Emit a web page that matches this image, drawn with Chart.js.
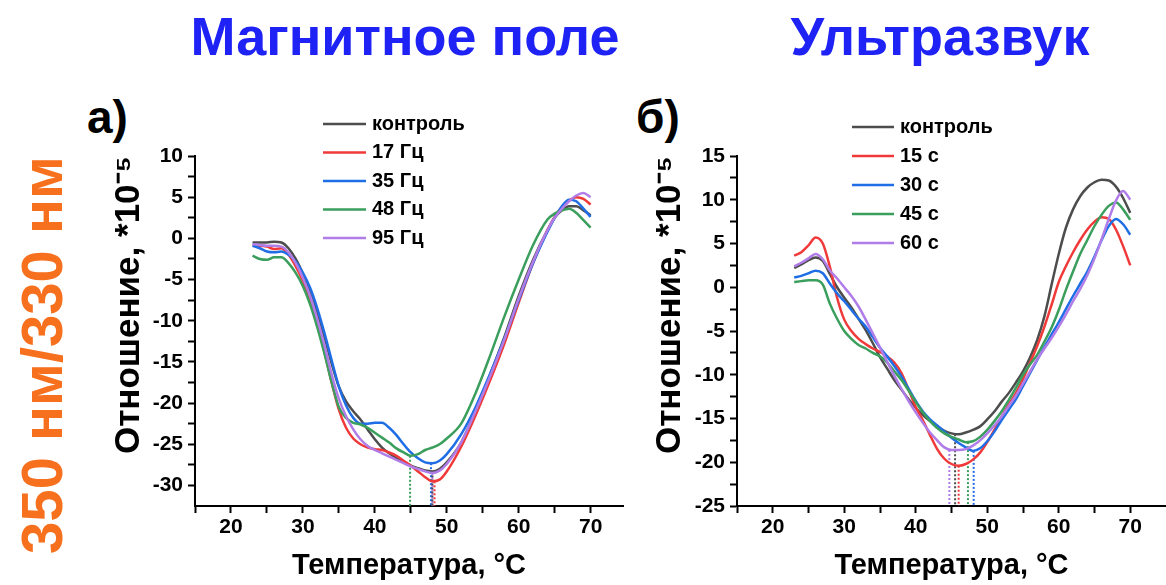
<!DOCTYPE html>
<html>
<head>
<meta charset="utf-8">
<script src="https://cdn.jsdelivr.net/npm/chart.js@4.4.1/dist/chart.umd.min.js"></script>
<style>
  body { margin: 0; width: 1166px; height: 585px; background: #fff; position: relative; overflow: hidden;
         font-family: "Liberation Sans", Arial, sans-serif; font-weight: bold; }
  .head { position: absolute; top: 4px; font-size: 54px; line-height: 64px; color: #1e22f5; white-space: nowrap; transform: translateX(-50%); }
  .tag { position: absolute; font-size: 46px; line-height: 50px; color: #000; }
  .side { position: absolute; left: 41px; top: 355px; font-size: 58px; color: #f7701e; white-space: nowrap;
          transform: translate(-50%, -50%) rotate(-90deg); }
  canvas { position: absolute; }
</style>
</head>
<body>
<div class="head" style="left:405px">Магнитное поле</div>
<div class="head" style="left:940px">Ультразвук</div>
<div class="side">350 нм/330 нм</div>
<div class="tag" style="left:87px;top:92px">а)</div>
<div class="tag" style="left:636px;top:92px">б)</div>
<canvas id="chartA" width="580" height="495" style="left:60px;top:90px"></canvas>
<canvas id="chartB" width="546" height="495" style="left:620px;top:90px"></canvas>
<script>
// ---- data: left panel (magnetic field)
const tempsA = [23, 24, 25, 26, 27, 28, 29, 30, 31, 32, 33, 34, 35, 36, 37, 38, 39, 40, 41, 42,
  43, 44, 45, 46, 47, 48, 49, 50, 52, 54, 56, 58, 60, 62, 64, 65, 66, 67, 68, 69, 70];
const labelsA = ["контроль", "17 Гц", "35 Гц", "48 Гц", "95 Гц"];
const ctrlA = [-0.5, -0.5, -0.5, -0.4, -0.5, -1.2, -2.5, -4.3, -6.5, -9.0,
  -12.0, -15.2, -18.0, -19.8, -21.0, -22.0, -23.2, -24.4, -25.4, -26.1,
  -26.7, -27.2, -27.6, -27.9, -28.2, -28.3, -28.0, -27.2,
  -24.8, -21.0, -16.6, -12.0, -7.0, -2.6, 1.0, 2.5, 3.4, 3.9, 3.9, 3.4, 2.8];
const hz17 = [-0.9, -0.9, -1.0, -1.3, -1.2, -2.0, -3.4, -5.2, -7.5, -10.3,
  -13.8, -17.5, -20.8, -23.0, -24.3, -25.0, -25.4, -25.6, -25.7, -26.0,
  -26.4, -27.0, -27.6, -28.3, -29.0, -29.5, -29.3, -28.3,
  -25.3, -21.5, -17.3, -12.8, -7.8, -3.0, 1.0, 2.6, 3.8, 4.6, 5.0, 4.8, 4.1];
const hz35 = [-0.9, -1.2, -1.6, -1.7, -1.6, -2.0, -2.8, -4.2, -6.0, -8.5,
  -11.5, -14.8, -18.0, -20.3, -21.8, -22.5, -22.5, -22.4, -22.4, -23.0,
  -23.9, -25.0, -26.0, -26.7, -27.2, -27.3, -27.0, -26.2,
  -23.8, -20.5, -16.5, -12.2, -7.5, -3.0, 0.8, 2.5, 3.9, 4.7, 4.5, 3.6, 2.6];
const hz48 = [-2.1, -2.5, -2.6, -2.3, -2.3, -3.0, -4.2, -5.8, -8.0, -10.8,
  -14.0, -17.5, -20.5, -21.8, -22.4, -22.6, -23.0, -23.6, -24.2, -24.8,
  -25.5, -26.0, -26.4, -26.2, -25.7, -25.4, -25.0, -24.3,
  -22.5, -18.8, -14.3, -9.5, -5.0, -0.8, 2.3, 3.0, 3.4, 3.6, 3.1, 2.2, 1.3];
const hz95 = [-0.7, -0.8, -0.9, -0.9, -1.0, -1.7, -3.0, -4.8, -7.0, -9.8,
  -13.0, -16.5, -19.5, -21.6, -23.2, -24.4, -25.2, -25.7, -26.1, -26.5,
  -26.9, -27.3, -27.7, -28.0, -28.3, -28.5, -28.2, -27.4,
  -24.8, -21.0, -16.8, -12.3, -7.3, -2.8, 1.0, 2.5, 3.6, 4.5, 5.2, 5.5, 5.0];
const minTempA = [48.0, 48.3, 47.8, 44.9, 48.0];
const minValA = [-28.3, -29.5, -27.3, -26.4, -28.5];

// ---- data: right panel (ultrasound)
const tempsB = [23, 24, 25, 26, 27, 28, 29, 30, 31, 32, 33, 34, 35, 36, 37, 38, 39, 40, 41, 42,
  43, 44, 45, 46, 47, 48, 49, 50, 51, 52, 53, 54, 55, 56, 57, 58, 59, 60, 61, 62,
  63, 64, 65, 66, 67, 68, 69, 70];
const labelsB = ["контроль", "15 с", "30 с", "45 с", "60 с"];
const ctrlB = [2.2, 2.6, 3.1, 3.4, 3.0, 1.5, 0.0, -1.2, -2.3, -3.6,
  -4.9, -6.4, -8.0, -9.3, -10.6, -11.7, -12.8, -13.8, -14.6, -15.3,
  -15.9, -16.4, -16.7, -16.8, -16.6, -16.3, -15.9, -15.1, -14.2, -13.1,
  -12.1, -10.9, -9.6, -8.0, -6.0, -3.3, 0.3, 3.8, 6.8, 8.9,
  10.4, 11.4, 12.0, 12.3, 12.2, 11.5, 10.2, 8.5];
const sec15 = [3.6, 4.0, 4.8, 5.7, 5.0, 2.3, -1.2, -3.7, -5.0, -5.9,
  -6.5, -7.0, -7.4, -7.9, -8.6, -9.8, -11.7, -13.7, -15.2, -16.9,
  -18.5, -19.6, -20.2, -20.4, -20.2, -19.7, -18.9, -17.7, -16.3, -14.8,
  -13.4, -12.1, -10.5, -8.6, -6.7, -4.5, -2.0, 0.6, 2.4, 4.0,
  5.4, 6.6, 7.5, 8.0, 7.8, 6.6, 4.7, 2.5];
const sec30 = [1.1, 1.3, 1.6, 1.9, 1.6, 0.4, -0.7, -1.6, -2.6, -3.6,
  -4.5, -5.7, -6.9, -7.9, -9.0, -10.2, -11.6, -13.0, -14.2, -15.1,
  -15.8, -16.5, -17.2, -17.8, -18.3, -18.7, -18.4, -17.6, -16.5, -15.2,
  -14.0, -12.8, -11.3, -9.8, -8.3, -6.8, -5.4, -4.0, -2.5, -1.0,
  0.4, 1.8, 3.5, 5.4, 7.0, 7.8, 7.2, 6.0];
const sec45 = [0.6, 0.7, 0.8, 0.8, 0.3, -1.9, -3.6, -5.0, -5.9, -6.6,
  -7.0, -7.5, -7.9, -8.6, -9.6, -10.6, -11.8, -13.1, -14.3, -15.3,
  -16.1, -16.7, -17.1, -17.4, -17.7, -17.6, -17.1, -16.3, -15.3, -14.2,
  -12.9, -11.5, -10.0, -8.8, -7.7, -6.2, -4.6, -2.6, -0.3, 1.8,
  3.8, 5.4, 7.0, 8.3, 9.3, 9.7, 8.9, 7.7];
const sec60 = [2.4, 2.8, 3.3, 3.8, 3.2, 1.9, 1.0, 0.0, -1.0, -2.2,
  -3.7, -5.3, -6.9, -8.5, -10.1, -11.6, -13.0, -14.3, -15.5, -16.6,
  -17.5, -18.3, -18.6, -18.6, -18.5, -18.1, -17.5, -16.7, -15.8, -14.8,
  -13.6, -12.4, -11.0, -9.6, -8.2, -7.0, -5.8, -4.5, -3.1, -1.6,
  -0.2, 1.4, 3.3, 5.5, 7.8, 9.9, 11.0, 10.0];
const minTempB = [45.5, 46.0, 48.1, 47.3, 44.7];
const minValB = [-16.8, -20.4, -18.7, -17.7, -18.6];

// ---- tick positions (labels only on every other one)
const xTicks = [15, 20, 25, 30, 35, 40, 45, 50, 55, 60, 65, 70];
const yTicksA = [-30, -27.5, -25, -22.5, -20, -17.5, -15, -12.5, -10, -7.5, -5, -2.5, 0, 2.5, 5, 7.5, 10];
const yTicksB = [-25, -22.5, -20, -17.5, -15, -12.5, -10, -7.5, -5, -2.5, 0, 2.5, 5, 7.5, 10, 12.5, 15];

const colors = ["#4d4d4d", "#f03a3a", "#1f6ee6", "#3a9e5c", "#b07de8"];

Chart.defaults.font.family = '"Liberation Sans", Arial, sans-serif';
Chart.defaults.font.weight = "bold";
Chart.defaults.color = "#000";

function curves(temps, series, labels) {
  return series.map((vals, i) => ({
    label: labels[i],
    data: temps.map((t, j) => ({ x: t, y: vals[j] })),
    borderColor: colors[i],
    borderWidth: 2.5,
    pointRadius: 0,
    cubicInterpolationMode: "monotone",
    order: series.length - i,
  }));
}

function markers(temps, vals, floor) {
  return temps.map((t, i) => ({
    label: "",
    data: [{ x: t, y: vals[i] }, { x: t, y: floor }],
    borderColor: colors[i],
    borderWidth: 2,
    borderDash: [2, 2],
    pointRadius: 0,
    order: 10,
  }));
}

// legend drawn inside the plot, like the original figure
const insideLegend = {
  id: "insideLegend",
  afterDraw(chart, args, opts) {
    const ctx = chart.ctx;
    ctx.save();
    ctx.font = 'bold 20px "Liberation Sans", Arial, sans-serif';
    ctx.textBaseline = "middle";
    chart.data.datasets.filter((ds) => ds.label).forEach((ds, i) => {
      const y = opts.y + i * opts.gap;
      ctx.strokeStyle = ds.borderColor;
      ctx.lineWidth = 2.5;
      ctx.beginPath();
      ctx.moveTo(opts.x, y);
      ctx.lineTo(opts.x + opts.len, y);
      ctx.stroke();
      ctx.fillStyle = "#000";
      ctx.fillText(ds.label, opts.x + opts.len + 6, y);
    });
    ctx.restore();
  },
};

const setTicks = (list) => (scale) => {
  scale.ticks = list.map((v) => ({ value: v }));
};

function makeChart(id, datasets, yMin, yMax, xMax, yTicks, yWidth, pad, legend) {
  return new Chart(document.getElementById(id), {
    type: "line",
    data: { datasets: datasets },
    plugins: [insideLegend],
    options: {
      responsive: false,
      animation: false,
      layout: { padding: pad },
      plugins: { legend: { display: false }, tooltip: { enabled: false }, insideLegend: legend },
      scales: {
        x: {
          type: "linear",
          min: 15,
          max: xMax,
          afterBuildTicks: setTicks(xTicks),
          afterFit: (s) => { s.height = 79; },
          border: { display: true, color: "#000", width: 2 },
          grid: { drawOnChartArea: false, tickLength: 7, tickWidth: 2, tickColor: "#000" },
          ticks: {
            padding: 2,
            font: { size: 21, weight: "bold" },
            callback: (v) => (v % 10 === 0 ? v : ""),
            maxRotation: 0,
            autoSkip: false,
          },
          title: { display: true, text: "Температура, °С", font: { size: 29, weight: "bold" }, padding: { top: 0, bottom: 2 } },
        },
        y: {
          min: yMin,
          max: yMax,
          afterBuildTicks: setTicks(yTicks),
          afterFit: (s) => { s.width = yWidth; },
          border: { display: true, color: "#000", width: 2 },
          grid: { drawOnChartArea: false, tickLength: 7, tickWidth: 2, tickColor: "#000" },
          ticks: {
            padding: 5,
            font: { size: 21, weight: "bold" },
            callback: (v) => (v % 5 === 0 ? v : ""),
            autoSkip: false,
          },
          title: {
            display: true,
            text: "Отношение, *10⁻⁵",
            align: "end",
            font: { size: 35, weight: "bold" },
            padding: { top: 0, bottom: 0 },
          },
        },
      },
    },
  });
}

makeChart(
  "chartA",
  curves(tempsA, [ctrlA, hz17, hz35, hz48, hz95], labelsA).concat(markers(minTempA, minValA, -32.5)),
  -32.5, 10, 74.5, yTicksA, 87,
  { left: 48, top: 66, right: 17, bottom: 0 },
  { x: 263, y: 34, gap: 28.5, len: 43 }
);

makeChart(
  "chartB",
  curves(tempsB, [ctrlB, sec15, sec30, sec45, sec60], labelsB).concat(markers(minTempB, minValB, -25)),
  -25, 15, 75, yTicksB, 88,
  { left: 29, top: 66, right: 0, bottom: 0 },
  { x: 232, y: 37, gap: 29, len: 42 }
);
</script>
</body>
</html>
